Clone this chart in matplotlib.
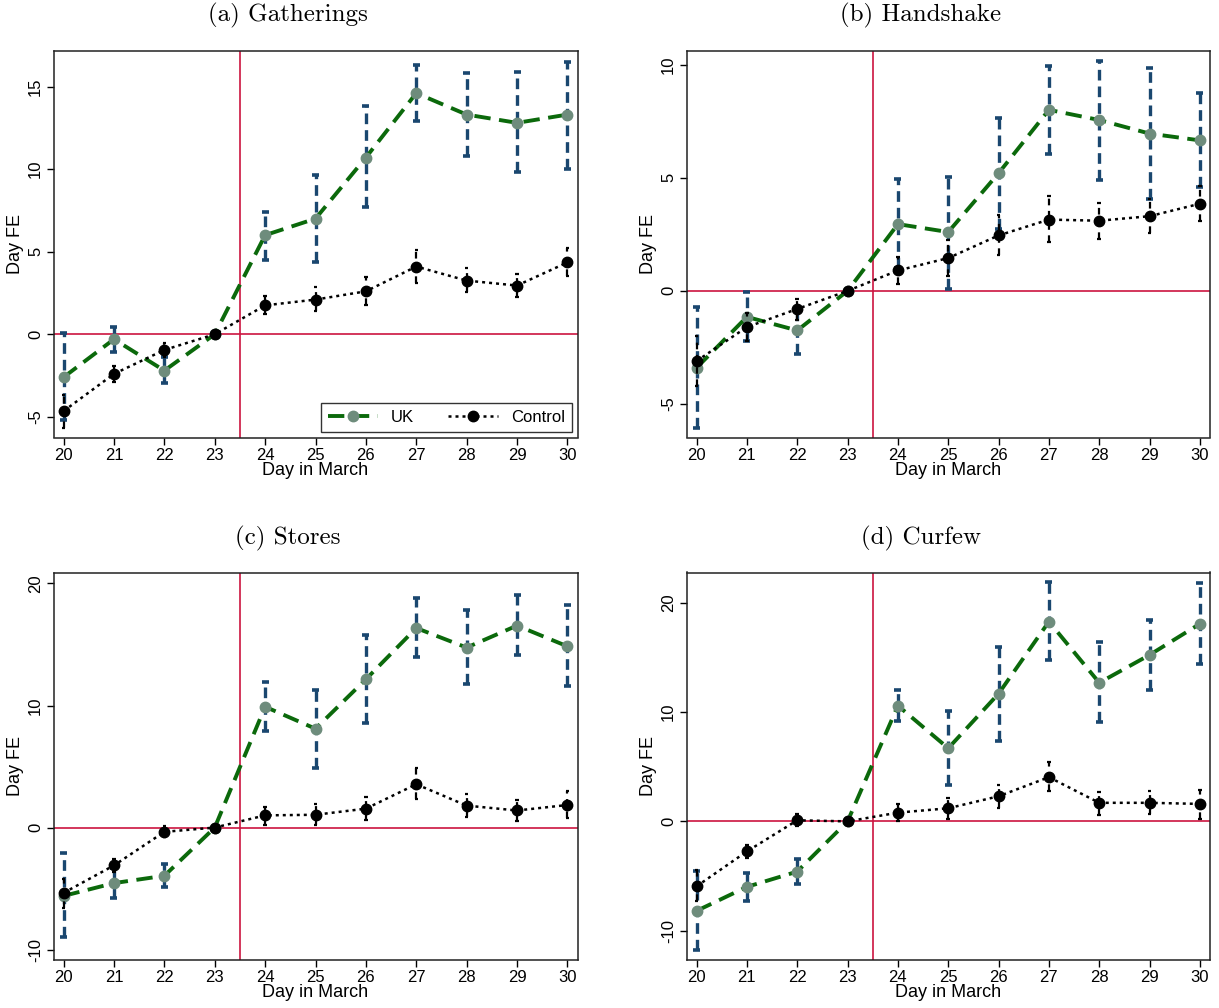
import matplotlib
matplotlib.use("Agg")
import matplotlib.pyplot as plt
import numpy as np

plt.rcParams['font.family'] = ['Liberation Sans', 'DejaVu Sans']
plt.rcParams['axes.unicode_minus'] = False

nan = np.nan
days = [20, 21, 22, 23, 24, 25, 26, 27, 28, 29, 30]

# (a) Gatherings
gath_uk = [-2.6, -0.3, -2.2, 0, 6.0, 7.0, 10.7, 14.6, 13.3, 12.8, 13.3]
gath_uk_lo = [-5.2, -1.05, -2.95, nan, 4.5, 4.4, 7.7, 12.9, 10.8, 9.8, 10.0]
gath_uk_hi = [0.05, 0.45, -1.4, nan, 7.4, 9.65, 13.85, 16.3, 15.8, 15.85, 16.5]
gath_ct = [-4.65, -2.4, -0.95, 0, 1.75, 2.1, 2.6, 4.1, 3.25, 2.95, 4.35]
gath_ct_lo = [-5.65, -2.9, -1.4, nan, 1.2, 1.4, 1.8, 3.1, 2.55, 2.25, 3.5]
gath_ct_hi = [-3.65, -1.9, -0.5, nan, 2.3, 2.85, 3.45, 5.1, 4.0, 3.65, 5.2]

# (b) Handshake
hand_uk = [-3.4, -1.15, -1.75, 0, 2.95, 2.6, 5.2, 8.0, 7.55, 6.95, 6.65]
hand_uk_lo = [-6.05, -2.2, -2.8, nan, 1.0, 0.1, 2.75, 6.05, 4.9, 4.05, 4.6]
hand_uk_hi = [-0.7, -0.05, -0.75, nan, 4.95, 5.05, 7.65, 9.95, 10.15, 9.85, 8.75]
hand_ct = [-3.1, -1.6, -0.8, 0, 0.9, 1.45, 2.45, 3.15, 3.1, 3.3, 3.85]
hand_ct_lo = [-4.2, -2.2, -1.3, nan, 0.3, 0.65, 1.6, 2.15, 2.3, 2.55, 3.1]
hand_ct_hi = [-2.0, -1.0, -0.35, nan, 1.5, 2.25, 3.35, 4.2, 3.9, 4.05, 4.65]

# (c) Stores
stores_uk = [-5.6, -4.55, -3.95, 0, 9.9, 8.1, 12.15, 16.35, 14.75, 16.55, 14.85]
stores_uk_lo = [-8.95, -5.75, -4.9, nan, 7.95, 4.9, 8.6, 13.95, 11.75, 14.1, 11.6]
stores_uk_hi = [-2.1, -3.3, -3.0, nan, 11.9, 11.3, 15.75, 18.85, 17.8, 19.05, 18.2]
stores_ct = [-5.35, -3.1, -0.35, 0, 1.0, 1.05, 1.55, 3.55, 1.8, 1.4, 1.85]
stores_ct_lo = [-6.55, -3.65, -0.8, nan, 0.25, 0.25, 0.65, 2.35, 0.9, 0.5, 0.75]
stores_ct_hi = [-4.2, -2.55, 0.15, nan, 1.7, 1.9, 2.5, 4.85, 2.75, 2.25, 3.0]

# (d) Curfew
curfew_uk = [-8.2, -6.0, -4.6, 0, 10.6, 6.7, 11.7, 18.3, 12.7, 15.25, 18.1]
curfew_uk_lo = [-11.8, -7.25, -5.7, nan, 9.2, 3.3, 7.35, 14.8, 9.1, 12.05, 14.4]
curfew_uk_hi = [-4.55, -4.75, -3.45, nan, 12.05, 10.1, 16.0, 21.9, 16.4, 18.45, 21.8]
curfew_ct = [-5.95, -2.75, 0.1, 0, 0.8, 1.2, 2.3, 4.05, 1.7, 1.7, 1.6]
curfew_ct_lo = [-7.3, -3.35, -0.4, nan, 0.0, 0.25, 1.2, 2.75, 0.6, 0.65, 0.25]
curfew_ct_hi = [-4.5, -2.15, 0.65, nan, 1.6, 2.1, 3.35, 5.45, 2.7, 2.75, 2.9]

GREEN = '#0B690B'
MARKER_GREEN = '#6E8C7C'
NAVY = '#1A476F'
RED = '#CC1440'


def draw_ci(ax, x, lo, hi, color, lw, dash, capw, capthick, z):
    x = np.asarray(x, dtype=float)
    lo = np.asarray(lo, dtype=float)
    hi = np.asarray(hi, dtype=float)
    ok = ~np.isnan(lo)
    ax.vlines(x[ok], lo[ok], hi[ok], colors=color, linewidth=lw,
              linestyles=[(0, dash)], zorder=z)
    ax.hlines(lo[ok], x[ok] - capw, x[ok] + capw, colors=color,
              linewidth=capthick, zorder=z)
    ax.hlines(hi[ok], x[ok] - capw, x[ok] + capw, colors=color,
              linewidth=capthick, zorder=z)


def panel(ax, uk, uk_lo, uk_hi, ct, ct_lo, ct_hi, ylim, yticks):
    ax.axvline(23.5, color=RED, linewidth=1.2, zorder=1)
    ax.axhline(0, color=RED, linewidth=1.2, zorder=1)

    draw_ci(ax, days, uk_lo, uk_hi, NAVY, 2.4, (3.2, 1.8), 0.07, 2.6, 2)
    ax.plot(days, uk, color=GREEN, linestyle=(0, (4.2, 2.2)), linewidth=2.8,
            marker='o', markersize=7.5, markerfacecolor=MARKER_GREEN,
            markeredgecolor=MARKER_GREEN, zorder=3, label='UK')

    draw_ci(ax, days, ct_lo, ct_hi, 'black', 1.6, (3, 2.5), 0.035, 1.6, 4)
    ax.plot(days, ct, color='black', linestyle=(0, (1.2, 1.6)), linewidth=1.8,
            marker='o', markersize=7.5, markerfacecolor='black',
            markeredgecolor='black', zorder=5, label='Control')

    ax.set_xlim(19.8, 30.2)
    ax.set_ylim(*ylim)
    ax.set_xticks(days)
    ax.set_yticks(yticks)
    ax.tick_params(axis='both', direction='out', length=5, width=1,
                   labelsize=12, colors='black', pad=2.5)
    for lab in ax.get_yticklabels():
        lab.set_rotation(90)
        lab.set_verticalalignment('center')
    ax.set_xlabel("Day in March", fontsize=13, labelpad=-1)
    ax.set_ylabel("Day FE", fontsize=13, labelpad=3)
    for s in ax.spines.values():
        s.set_linewidth(1.1)
        s.set_color('#222222')


fig = plt.figure(figsize=(12.19, 10.08), dpi=100)
W, H = 1219.0, 1008.0


def add_axes(l, r, t, b):
    return fig.add_axes([l / W, 1 - b / H, (r - l) / W, (b - t) / H])


ax_a = add_axes(53.5, 577.5, 51, 437.5)
ax_b = add_axes(686.5, 1210, 51, 437.5)
ax_c = add_axes(53.5, 577.5, 572.5, 960)
ax_d = add_axes(686.5, 1210, 572.5, 960)

panel(ax_a, gath_uk, gath_uk_lo, gath_uk_hi, gath_ct, gath_ct_lo, gath_ct_hi,
      (-6.25, 17.15), [-5, 0, 5, 10, 15])
panel(ax_b, hand_uk, hand_uk_lo, hand_uk_hi, hand_ct, hand_ct_lo, hand_ct_hi,
      (-6.48, 10.6), [-5, 0, 5, 10])
panel(ax_c, stores_uk, stores_uk_lo, stores_uk_hi, stores_ct, stores_ct_lo,
      stores_ct_hi, (-10.85, 20.9), [-10, 0, 10, 20])
panel(ax_d, curfew_uk, curfew_uk_lo, curfew_uk_hi, curfew_ct, curfew_ct_lo,
      curfew_ct_hi, (-12.7, 22.8), [-10, 0, 10, 20])

leg = ax_a.legend(loc='lower right', ncol=2, fontsize=12, frameon=True,
                  fancybox=False, edgecolor='black', handlelength=3.0,
                  borderaxespad=0.35, columnspacing=2.0)
leg.get_frame().set_linewidth(1.0)
leg.set_zorder(10)

title_font = dict(family='cmr10', fontsize=18, ha='center', va='center')
fig.text(288 / W, 1 - 15 / H, "(a) Gatherings", **title_font)
fig.text(921 / W, 1 - 15 / H, "(b) Handshake", **title_font)
fig.text(288 / W, 1 - 538 / H, "(c) Stores", **title_font)
fig.text(921 / W, 1 - 538 / H, "(d) Curfew", **title_font)

fig.savefig("out.png", dpi=100)
